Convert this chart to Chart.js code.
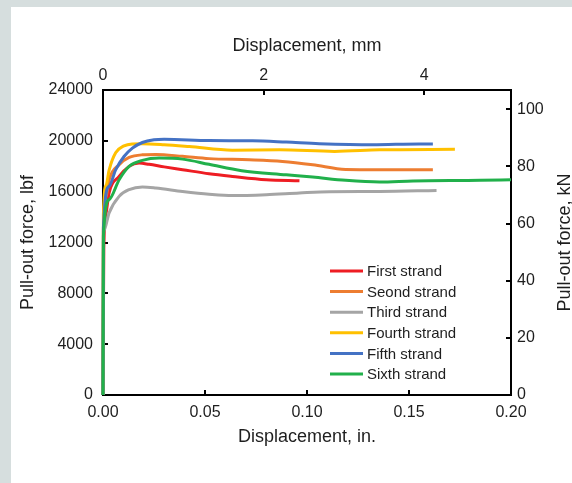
<!DOCTYPE html>
<html>
<head>
<meta charset="utf-8">
<script src="https://cdn.jsdelivr.net/npm/chart.js@4"></script>
<style>
    html, body { margin: 0; padding: 0; }
    body { background: #d6dede; width: 572px; height: 483px; overflow: hidden; }
    #panel { position: absolute; left: 11px; top: 7px; width: 561px; height: 476px; background: #fff; }
</style>
</head>
<body>
<div id="panel"><canvas id="chart" width="561" height="476"></canvas></div>
<script>
// pull-out test curves, x = displacement (in.), y = force (lbf)
const labels = ["First strand", "Seond strand", "Third strand", "Fourth strand", "Fifth strand", "Sixth strand"];
const colors = ["#ee1d23", "#ed7d31", "#a5a5a5", "#ffc000", "#4472c4", "#21b04b"];

const first = [[0, 0], [0.0004, 11500], [0.0015, 14300], [0.003, 15900], [0.0079, 17200], [0.0128, 17990],
    [0.0177, 18250], [0.0226, 18150], [0.03, 17950], [0.039, 17730], [0.052, 17410], [0.0634, 17200],
    [0.08, 16940], [0.0963, 16860]];
const second = [[0, 0], [0.0002, 13000], [0.0015, 15600], [0.003, 16940], [0.0079, 18120], [0.0128, 18690],
    [0.0193, 18900], [0.026, 18930], [0.039, 18780], [0.052, 18600], [0.0717, 18510], [0.088, 18380],
    [0.1028, 18120], [0.119, 17750], [0.1356, 17730], [0.1617, 17730]];
const third = [[0, 0], [0.0002, 12000], [0.0007, 13000], [0.003, 14330], [0.0079, 15630], [0.0128, 16160],
    [0.0193, 16370], [0.0259, 16290], [0.039, 16020], [0.052, 15800], [0.0634, 15690], [0.08, 15760],
    [0.0963, 15900], [0.111, 16000], [0.1356, 16020], [0.1635, 16100]];
const fourth = [[0, 0], [0.0002, 14200], [0.0015, 16500], [0.003, 17700], [0.0062, 19060], [0.0103, 19600],
    [0.0143, 19760], [0.019, 19780], [0.03, 19700], [0.0423, 19550], [0.0634, 19260], [0.0865, 19290],
    [0.1135, 19170], [0.1356, 19290], [0.1725, 19330]];
const fifth = [[0, 0], [0.0002, 13200], [0.003, 16420], [0.0062, 17720], [0.0103, 18770], [0.0144, 19430],
    [0.0193, 19870], [0.025, 20080], [0.03, 20120], [0.052, 20020], [0.0733, 20000], [0.0898, 19900],
    [0.106, 19780], [0.132, 19690], [0.155, 19760], [0.1617, 19760]];
const sixth = [[0, 0], [0.0002, 12500], [0.003, 15370], [0.0079, 16940], [0.0128, 17990], [0.0193, 18460],
    [0.0275, 18640], [0.039, 18560], [0.052, 18150], [0.068, 17650], [0.0898, 17330], [0.1028, 17150],
    [0.119, 16890], [0.1356, 16760], [0.152, 16840], [0.185, 16890], [0.2, 16940]];
const series = [first, second, third, fourth, fifth, sixth];

const xMax = 0.2;      // in.
const yMax = 24000;    // lbf
const MM_PER_IN = 25.4;
const KN_PER_LBF = 0.0044482216;

const textColor = "#1e1e1e";
const fontFamily = '"Liberation Sans", Arial, Helvetica, sans-serif';
Chart.defaults.font.family = fontFamily;
Chart.defaults.color = textColor;

// small tick marks pointing into the plot
const insideTicks = {
    id: "insideTicks",
    beforeDatasetsDraw(chart) {
        const ctx = chart.ctx, a = chart.chartArea;
        const len = 5;
        ctx.save();
        ctx.strokeStyle = "#000";
        ctx.lineWidth = 2;
        for (const id of ["x", "xTop", "y", "yRight"]) {
            const s = chart.scales[id];
            s.ticks.forEach(t => {
                const p = Math.round(s.getPixelForValue(t.value));
                ctx.beginPath();
                if (id === "x") { ctx.moveTo(p, a.bottom); ctx.lineTo(p, a.bottom - len); }
                if (id === "xTop") { ctx.moveTo(p, a.top); ctx.lineTo(p, a.top + len); }
                if (id === "y") { ctx.moveTo(a.left, p); ctx.lineTo(a.left + len, p); }
                if (id === "yRight") { ctx.moveTo(a.right, p); ctx.lineTo(a.right - len, p); }
                ctx.stroke();
            });
        }
        ctx.restore();
    }
};

// legend inside the plot, lower right
const legendBox = {
    id: "legendBox",
    afterDraw(chart) {
        const ctx = chart.ctx, a = chart.chartArea;
        const x0 = a.left + 227, y0 = a.top + 181;
        ctx.save();
        ctx.font = "15px " + fontFamily;
        ctx.textBaseline = "middle";
        chart.data.datasets.forEach((ds, i) => {
            const y = y0 + i * 20.6;
            ctx.strokeStyle = ds.borderColor;
            ctx.lineWidth = 3;
            ctx.beginPath();
            ctx.moveTo(x0, y);
            ctx.lineTo(x0 + 33, y);
            ctx.stroke();
            ctx.fillStyle = textColor;
            ctx.fillText(ds.label, x0 + 37, y + 1);
        });
        ctx.restore();
    }
};

// right axis title reads bottom-to-top, Chart.js would turn it the other way
const rightTitle = {
    id: "rightTitle",
    afterDraw(chart) {
        const ctx = chart.ctx, a = chart.chartArea;
        ctx.save();
        ctx.translate(554, (a.top + a.bottom) / 2);
        ctx.rotate(-Math.PI / 2);
        ctx.font = "18px " + fontFamily;
        ctx.fillStyle = textColor;
        ctx.textAlign = "center";
        ctx.textBaseline = "middle";
        ctx.fillText("Pull-out force, kN", 0, 0);
        ctx.restore();
    }
};

const axisGrid = { drawOnChartArea: false, drawTicks: false };
const axisBorder = { color: "#000", width: 2 };

new Chart(document.getElementById("chart"), {
    type: "scatter",
    data: {
        datasets: series.map((pts, i) => ({
            label: labels[i],
            data: pts.map(p => ({ x: p[0], y: p[1] })),
            borderColor: colors[i],
            backgroundColor: colors[i],
            borderWidth: 3,
            pointRadius: 0,
            showLine: true,
            cubicInterpolationMode: "monotone",
            clip: false,
            order: series.length - i
        }))
    },
    options: {
        responsive: false,
        animation: false,
        devicePixelRatio: 1,
        layout: { padding: { left: 6, top: 28, right: 0, bottom: 35 } },
        plugins: { legend: { display: false }, tooltip: { enabled: false } },
        scales: {
            x: {
                type: "linear", position: "bottom", min: 0, max: xMax,
                grid: axisGrid, border: axisBorder,
                ticks: { stepSize: 0.05, padding: 8, font: { size: 16 }, callback: v => v.toFixed(2) },
                title: { display: true, text: "Displacement, in.", font: { size: 18 }, padding: 0 },
                afterFit: s => { s.height = 53; }
            },
            xTop: {
                type: "linear", position: "top", min: 0, max: xMax * MM_PER_IN, bounds: "data",
                grid: axisGrid, border: axisBorder,
                ticks: { stepSize: 2, includeBounds: false, padding: 5, font: { size: 16 }, callback: v => String(v) },
                title: { display: true, text: "Displacement, mm", font: { size: 18 }, padding: 0 },
                afterFit: s => { s.height = 55; }
            },
            y: {
                type: "linear", position: "left", min: 0, max: yMax,
                grid: axisGrid, border: axisBorder,
                ticks: { stepSize: 4000, padding: 10, font: { size: 16 }, callback: v => String(v) },
                title: { display: true, text: "Pull-out force, lbf", font: { size: 18 }, padding: 0 },
                afterFit: s => { s.width = 86; }
            },
            yRight: {
                type: "linear", position: "right", min: 0, max: yMax * KN_PER_LBF, bounds: "data",
                grid: axisGrid, border: axisBorder,
                ticks: { stepSize: 20, includeBounds: false, padding: 6, font: { size: 16 }, callback: v => String(v) },
                afterFit: s => { s.width = 61; }
            }
        }
    },
    plugins: [insideTicks, legendBox, rightTitle]
});
</script>
</body>
</html>
